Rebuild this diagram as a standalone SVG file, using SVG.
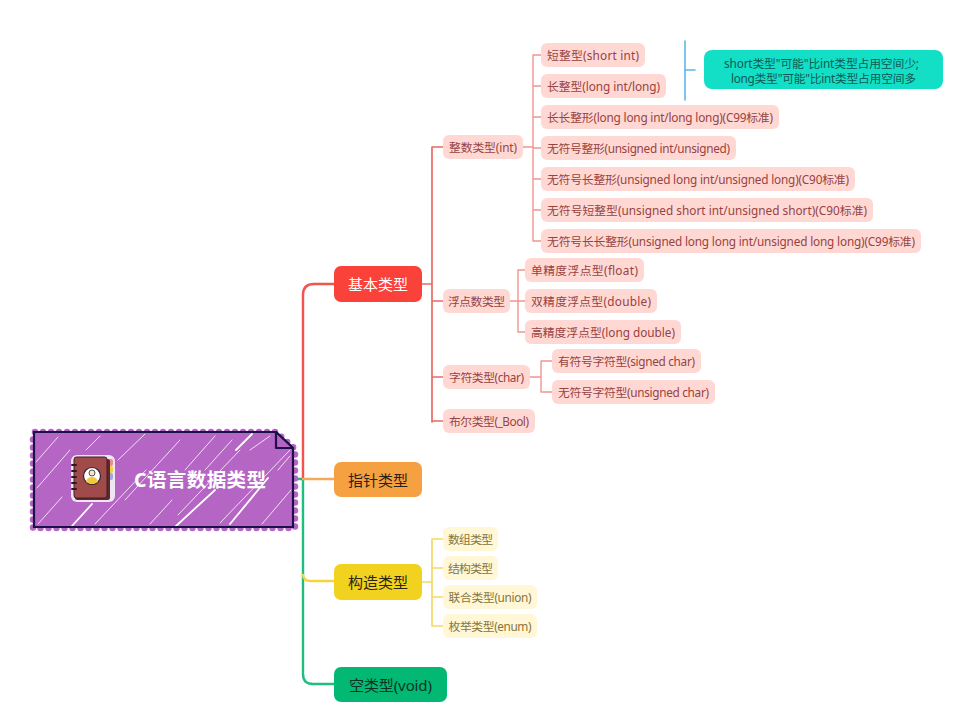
<svg xmlns="http://www.w3.org/2000/svg" width="976" height="727" viewBox="0 0 976 727">
<style>
text{font-family:"Noto Sans","Noto Sans CJK SC",sans-serif;text-anchor:middle;dominant-baseline:central}
.leaf{font-size:11.8px}
.l1{font-size:15px}
.lr{fill:#ffd8d4}.lrt{fill:#97433f}
.ly{fill:#fff7d6}.lyt{fill:#86743a}
.c{fill:none;stroke-linecap:round;stroke-linejoin:round}
.r1{stroke:#f0544c;stroke-width:2.4}
.r2{stroke:#ea6a62;stroke-width:1.7}
.r3{stroke:#f2958f;stroke-width:1.4}
.y2{stroke:#f6d766;stroke-width:1.7}
</style>
<rect width="976" height="727" fill="#fff"/>
<g id="connectors">
<path class="c" stroke="#20bd80" stroke-width="2.4" d="M294 479H303V674Q303 684 313 684H334"/>
<path class="c r1" d="M303 479V295Q303 284 314 284H334"/>
<path class="c" stroke="#f5a95c" stroke-width="2.4" d="M303 479H334"/>
<path class="c" stroke="#f5d53f" stroke-width="2.4" d="M303 575Q304 581 310 581H334"/>
<path class="c r2" d="M422 284H432M432 147V422M443 147H432M443 301H432M443 377H432M443 421H432"/>
<path class="c r3" d="M523 147H533M533 55V241M533 55H541M533 86H541M533 117H541M533 148H541M533 179H541M533 210H541M533 241H541"/>
<path class="c r3" d="M510 301H518M518 270V332M518 270H525M518 301H525M518 332H525"/>
<path class="c r3" d="M530 377H541M541 361V392M541 361H552M541 392H552"/>
<path class="c y2" d="M422 582H432M432 539V626M443 539H432M443 568H432M443 597H432M443 626H432"/>
<path class="c" stroke="#5bb7ea" stroke-width="1.6" d="M685 41V100M685 70H695"/>
</g>
<g id="root">
<path d="M35 432H276L295 449V528H33V432" fill="none" stroke="#b565c4" stroke-width="6.500" stroke-linecap="round" stroke-dasharray="0 8"/>
<path d="M35 433H276L292 449V526H35Z" fill="#b565c4"/>
<g stroke="#fff" stroke-linecap="round" fill="none">
<path stroke-width=".8" d="M36 462L58 437M37 488L70 450M38 524L62 497M86 450L100 436M95 524L146 470M118 460L145 434M125 500L180 440M150 524L172 500M185 470L215 436M178 515L240 450M205 470L232 440M220 523L290 450M262 524L291 490M250 450L270 436M278 470L290 456"/>
<path stroke-width="1.800" d="M72 526L92 504M176 526L215 490M236 450L252 434M230 524L268 478"/>
</g>
<path d="M34 432H276L293 448V527H34Z" fill="none" stroke="#1d0f4a" stroke-width="2.2" stroke-linejoin="miter"/>
<path d="M276 432L293 448H276Z" fill="#b565c4" stroke="#1d0f4a" stroke-width="2.2" stroke-linejoin="round"/>
<g id="root-icon">
<rect x="71" y="455" width="44" height="47" rx="6" fill="#eee6f0"/>
<rect x="108" y="459" width="5" height="7" rx="2" fill="#f28a8f"/>
<rect x="108" y="466" width="5" height="7" rx="2" fill="#f4cf47"/>
<rect x="108" y="473" width="5" height="7" rx="2" fill="#a9a4e0"/>
<rect x="75" y="459" width="35" height="41" rx="2.500" fill="#5c2a2a"/>
<rect x="74" y="457" width="33" height="41" rx="2.500" fill="#a14a4a" stroke="#3d1f25" stroke-width="1"/>
<path d="M72 465h4M72 471h4M72 477h4M72 483h4M72 489h4" stroke="#2a1a28" stroke-width="2" stroke-linecap="round"/>
<circle cx="92" cy="476" r="8.500" fill="#fff" stroke="#2f2030" stroke-width="1.200"/>
<circle cx="92" cy="473" r="3" fill="#f6e6c8" stroke="#2f2030" stroke-width=".8"/>
<path d="M86 482Q87 477 92 477Q97 477 98 482Q92 486 86 482Z" fill="#f1c93a"/>
</g>
<text x="200" y="479" font-size="19.500" font-weight="700" fill="#fff" textLength="132">C语言数据类型</text>
</g>
<g id="n-basic"><rect x="334" y="266" width="88" height="36" rx="7" fill="#fb423a"/><text class="l1" x="378" y="284" fill="#fff">基本类型</text></g>
<g id="n-pointer"><rect x="334" y="462" width="88" height="35" rx="7" fill="#f5a142"/><text class="l1" x="378" y="479.500" fill="#2a2015">指针类型</text></g>
<g id="n-struct"><rect x="334" y="564" width="88" height="36" rx="7" fill="#f1d31f"/><text class="l1" x="378" y="582" fill="#2a2515">构造类型</text></g>
<g id="n-void"><rect x="334" y="667" width="113" height="35" rx="7" fill="#03b873"/><text class="l1" x="390.500" y="684.500" fill="#0b3324" textLength="83">空类型(void)</text></g>
<g id="n-int"><rect class="lr" x="443" y="135" width="80" height="24" rx="6"/><text class="leaf lrt" x="483" y="147" textLength="68">整数类型(int)</text></g>
<g id="n-float"><rect class="lr" x="443" y="289" width="67" height="24" rx="6"/><text class="leaf lrt" x="476.500" y="301" textLength="57">浮点数类型</text></g>
<g id="n-char"><rect class="lr" x="443" y="365" width="87" height="24" rx="6"/><text class="leaf lrt" x="486.500" y="377" textLength="75">字符类型(char)</text></g>
<g id="n-bool"><rect class="lr" x="443" y="409" width="92" height="24" rx="6"/><text class="leaf lrt" x="489" y="421" textLength="80">布尔类型(_Bool)</text></g>
<g id="n-short"><rect class="lr" x="541" y="43" width="104" height="24" rx="6"/><text class="leaf lrt" x="593" y="55" textLength="92">短整型(short int)</text></g>
<g id="n-long"><rect class="lr" x="541" y="74" width="125" height="24" rx="6"/><text class="leaf lrt" x="603.500" y="86" textLength="113">长整型(long int/long)</text></g>
<g id="n-longlong"><rect class="lr" x="541" y="105" width="238" height="24" rx="6"/><text class="leaf lrt" x="660" y="117" textLength="226">长长整形(long long int/long long)(C99标准)</text></g>
<g id="n-uint"><rect class="lr" x="541" y="136" width="195" height="24" rx="6"/><text class="leaf lrt" x="638.500" y="148" textLength="183">无符号整形(unsigned int/unsigned)</text></g>
<g id="n-ulong"><rect class="lr" x="541" y="167" width="314" height="24" rx="6"/><text class="leaf lrt" x="698" y="179" textLength="302">无符号长整形(unsigned long int/unsigned long)(C90标准)</text></g>
<g id="n-ushort"><rect class="lr" x="541" y="198" width="332" height="24" rx="6"/><text class="leaf lrt" x="707" y="210" textLength="320">无符号短整型(unsigned short int/unsigned short)(C90标准)</text></g>
<g id="n-ulonglong"><rect class="lr" x="541" y="229" width="380" height="24" rx="6"/><text class="leaf lrt" x="731" y="241" textLength="368">无符号长长整形(unsigned long long int/unsigned long long)(C99标准)</text></g>
<g id="n-single"><rect class="lr" x="525" y="258" width="119" height="24" rx="6"/><text class="leaf lrt" x="584.500" y="270" textLength="107">单精度浮点型(float)</text></g>
<g id="n-double"><rect class="lr" x="525" y="289" width="132" height="24" rx="6"/><text class="leaf lrt" x="591" y="301" textLength="120">双精度浮点型(double)</text></g>
<g id="n-longdouble"><rect class="lr" x="525" y="320" width="156" height="24" rx="6"/><text class="leaf lrt" x="603" y="332" textLength="144">高精度浮点型(long double)</text></g>
<g id="n-schar"><rect class="lr" x="552" y="349" width="149" height="24" rx="6"/><text class="leaf lrt" x="626.500" y="361" textLength="137">有符号字符型(signed char)</text></g>
<g id="n-uchar"><rect class="lr" x="552" y="380" width="163" height="24" rx="6"/><text class="leaf lrt" x="633.500" y="392" textLength="151">无符号字符型(unsigned char)</text></g>
<g id="n-array"><rect class="ly" x="443" y="527" width="55" height="24" rx="6"/><text class="leaf lyt" x="470.500" y="539" textLength="45">数组类型</text></g>
<g id="n-structure"><rect class="ly" x="443" y="556" width="55" height="24" rx="6"/><text class="leaf lyt" x="470.500" y="568" textLength="45">结构类型</text></g>
<g id="n-union"><rect class="ly" x="443" y="585" width="94" height="24" rx="6"/><text class="leaf lyt" x="490" y="597" textLength="83">联合类型(union)</text></g>
<g id="n-enum"><rect class="ly" x="443" y="614" width="94" height="24" rx="6"/><text class="leaf lyt" x="490" y="626" textLength="83">枚举类型(enum)</text></g>
<g id="n-note"><rect x="704" y="50" width="239" height="39" rx="8" fill="#12dfc6"/><text class="leaf" x="821.500" y="63" fill="#0f5a55" textLength="195">short类型"可能"比int类型占用空间少;</text><text class="leaf" x="823.500" y="78" fill="#0f5a55" textLength="185">long类型"可能"比int类型占用空间多</text></g>
</svg>
